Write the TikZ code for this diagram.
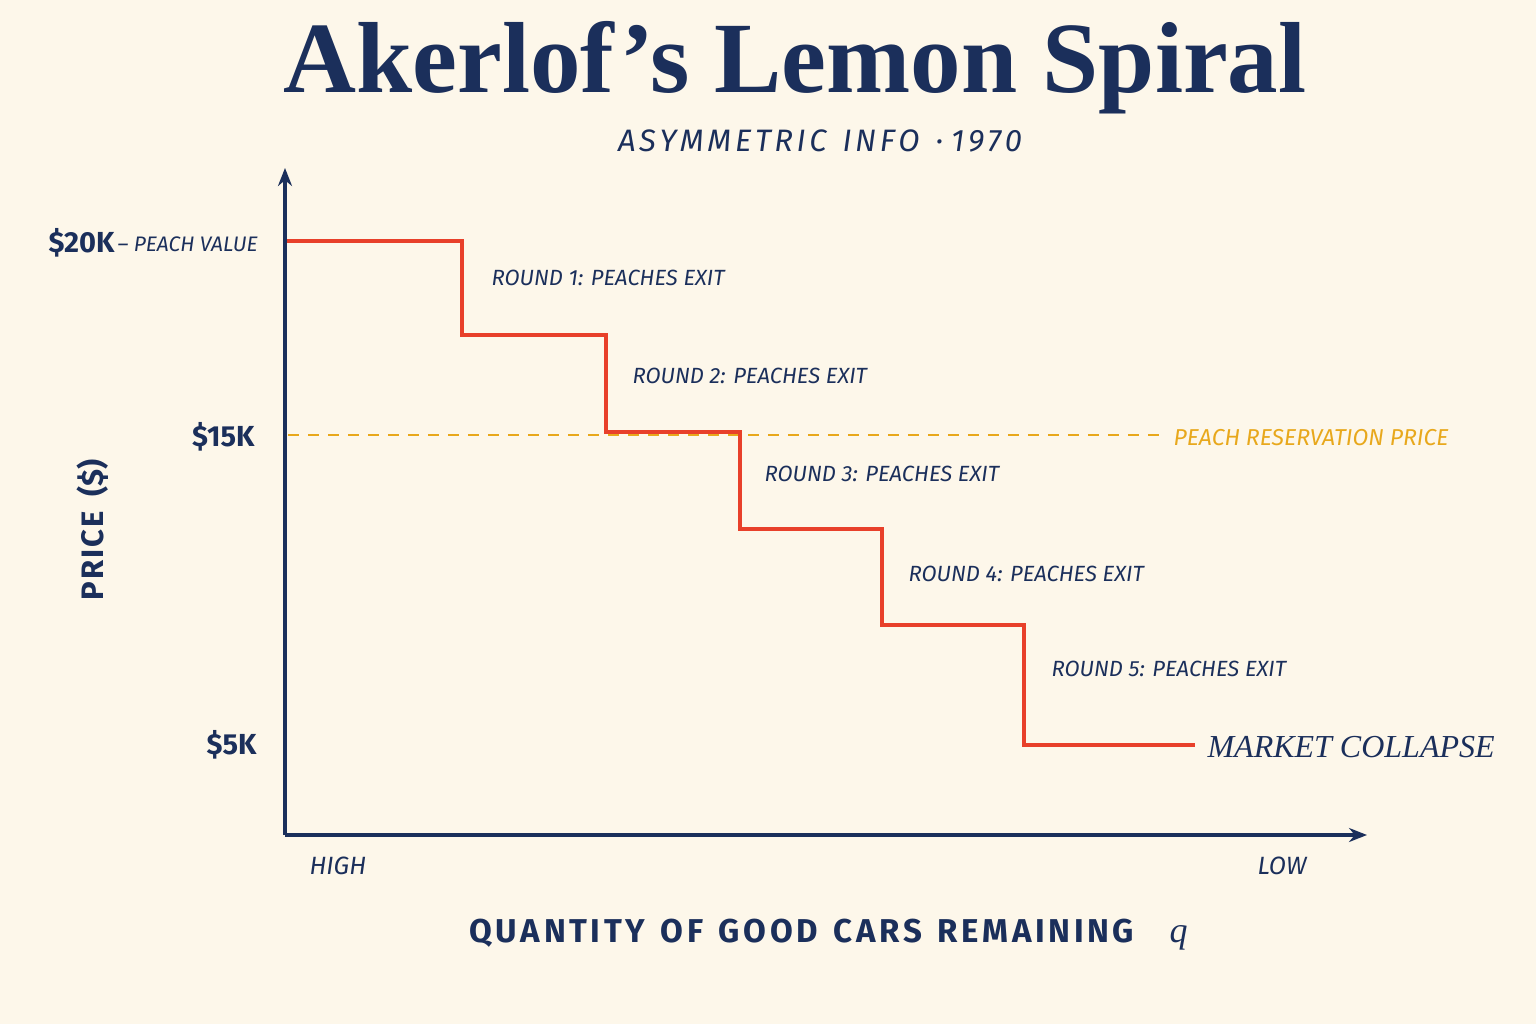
\documentclass[tikz,border=0pt]{standalone}
\usepackage{fontspec}
\setmainfont{Liberation Serif}
\setsansfont{Fira Sans}
\usetikzlibrary{arrows.meta}
\definecolor{bg}{HTML}{FDF7EA}
\definecolor{navy}{HTML}{1B2F5B}
\definecolor{redl}{HTML}{E8402A}
\definecolor{orng}{HTML}{E8A81C}
\newcommand{\kk}{\kern3.6pt}
\tikzset{
 rlabel/.style={anchor=west,text=navy,font=\sffamily\itshape\fontsize{22}{24}\selectfont},
 tick/.style={anchor=east,text=navy,font=\sffamily\bfseries\fontsize{29}{32}\selectfont},
 ax/.style={draw=navy,line width=3.5pt,-{Stealth[length=18pt,width=14pt]}}
}
\begin{document}
\begin{tikzpicture}[x=1pt,y=-1pt]
\fill[bg] (0,0) rectangle (1536,1024);
\useasboundingbox (0,0) rectangle (1536,1024);
\node[text=navy,font=\bfseries\fontsize{101}{104}\selectfont] (title) at (795,68) {Akerlof’s Lemon Spiral};
\node[text=navy,font=\sffamily\itshape\fontsize{31}{34}\selectfont] (sub) at (820,141) {A\kk S\kk Y\kk M\kk M\kk E\kk T\kk R\kk I\kk C\ \ I\kk N\kk F\kk O \ ·\ 1\kk 9\kk 7\kk 0};
\coordinate (o) at (285,835);
\coordinate (ytop) at (285,168);
\coordinate (xend) at (1367,835);
\draw[ax] (o) -- (ytop);
\draw[ax] (o) -- (xend);
\coordinate (d1) at (288,435); \coordinate (d2) at (1160,435);
\draw[orng,line width=2.2pt,dash pattern=on 11pt off 9pt] (d1) -- (d2);
\node[anchor=west,text=orng,font=\sffamily\itshape\fontsize{23}{26}\selectfont] (res) at (1170,438) {PEACH RESERVATION PRICE};
\draw[redl,line width=4.5pt] (287,241) -- (462,241) -- (462,335) -- (606,335) -- (606,432) -- (740,432) -- (740,529) -- (882,529) -- (882,625) -- (1024,625) -- (1024,745) -- (1195,745);
\node[rlabel] (r1) at (488,278) {ROUND 1: PEACHES EXIT};
\node[rlabel] (r2) at (629,376) {ROUND 2: PEACHES EXIT};
\node[rlabel] (r3) at (761,474) {ROUND 3: PEACHES EXIT};
\node[rlabel] (r4) at (905,574) {ROUND 4: PEACHES EXIT};
\node[rlabel] (r5) at (1048,669) {ROUND 5: PEACHES EXIT};
\node[anchor=west,text=navy,font=\itshape\fontsize{32}{34}\selectfont] (mc) at (1204,747) {MARKET COLLAPSE};
\node[tick] (t20) at (118,243) {\$20K};
\node[anchor=west,text=navy,font=\sffamily\itshape\fontsize{21}{24}\selectfont] (pv) at (114,244) {– PEACH VALUE};
\node[tick] (t15) at (258,437) {\$15K};
\node[tick] (t5) at (260,745) {\$5K};
\node[rotate=90,text=navy,font=\sffamily\bfseries\fontsize{31}{34}\selectfont] (py) at (93,530) {P\kern2pt R\kern2pt I\kern2pt C\kern2pt E\ \ (\$)};
\node[anchor=west,text=navy,font=\sffamily\itshape\fontsize{25}{28}\selectfont] (hi) at (306,866) {HIGH};
\node[anchor=east,text=navy,font=\sffamily\itshape\fontsize{25}{28}\selectfont] (lo) at (1310,866) {LOW};
\node[anchor=west,text=navy,font=\sffamily\bfseries\fontsize{33}{36}\selectfont] (xl) at (466,933) {Q\kk U\kk A\kk N\kk T\kk I\kk T\kk Y\ \ O\kk F\ \ G\kk O\kk O\kk D\ \ C\kk A\kk R\kk S\ \ R\kk E\kk M\kk A\kk I\kk N\kk I\kk N\kk G};
\node[anchor=west,text=navy,font=\itshape\fontsize{36}{38}\selectfont] (q) at (1166,938) {q};
\end{tikzpicture}
\end{document}
